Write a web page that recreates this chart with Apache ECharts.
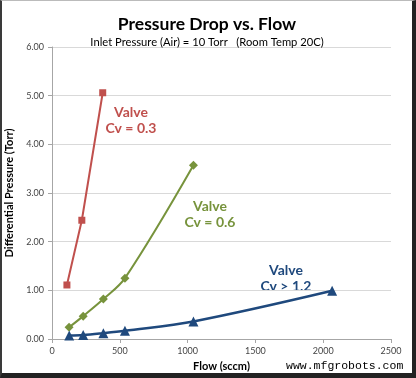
<!DOCTYPE html>
<html><head><meta charset="utf-8">
<script src="https://cdn.jsdelivr.net/npm/echarts@6/dist/echarts.min.js"></script>
<style>
html,body{margin:0;padding:0;background:#fff;}
#c{position:absolute;left:0;top:0;width:410px;height:372px;border-left:2px solid #3a3a3a;border-right:4px solid #222;border-bottom:5px solid #222;border-top:1px solid #bbb;background:#fff;}
</style></head><body>
<div id="c"></div>
<script>
const xTicks = [0, 500, 1000, 1500, 2000, 2500];
const yTicks = [0, 1, 2, 3, 4, 5, 6];
const flowCv03 = [110, 220, 374];
const dpCv03 = [1.11, 2.44, 5.06];
const flowCv06 = [126, 230, 379, 538, 1043];
const dpCv06 = [0.24, 0.47, 0.82, 1.25, 3.57];
const flowCv12 = [127, 230, 379, 538, 1043, 2066];
const dpCv12 = [0.07, 0.08, 0.12, 0.17, 0.36, 0.99];

const pairs = (xs, ys) => xs.map((x, i) => [x, ys[i]]);
const F = 'Lato, "Open Sans", sans-serif';
const chart = echarts.init(document.getElementById('c'));
function label(x, y, text, color) {
  return {type: 'text', x: x, y: y, style: {text: text, fill: color,
    font: 'bold 14px ' + F, align: 'center', verticalAlign: 'top', lineHeight: 16}};
}
chart.setOption({
  animation: false,
  backgroundColor: '#fff',
  title: [
    {text: 'Pressure Drop vs. Flow', left: 'center', top: 9,
     textStyle: {fontFamily: F, fontSize: 17.5, fontWeight: 'bold', color: '#000'}},
    {text: 'Inlet Pressure (Air) = 10 Torr   (Room Temp 20C)', left: 'center', top: 31,
     textStyle: {fontFamily: F, fontSize: 11.2, fontWeight: 'normal', color: '#000'}}
  ],
  grid: {left: 50, right: 21, top: 46, bottom: 34, containLabel: false, outerBoundsMode: 'none'},
  xAxis: {
    type: 'value', min: xTicks[0], max: xTicks[xTicks.length - 1], interval: 500,
    name: 'Flow (sccm)', nameLocation: 'middle', nameGap: 22,
    nameTextStyle: {fontFamily: F, fontSize: 11, fontWeight: 'bold', color: '#000'},
    axisLine: {lineStyle: {color: '#a6a6a6'}},
    axisTick: {show: true, length: 4, lineStyle: {color: '#a6a6a6'}},
    axisLabel: {fontFamily: F, fontSize: 9, color: '#444', margin: 8, formatter: v => String(v)},
    splitLine: {show: false}
  },
  yAxis: {
    type: 'value', min: yTicks[0], max: yTicks[yTicks.length - 1], interval: 1,
    name: 'Differential Pressure (Torr)', nameLocation: 'middle', nameGap: 27,
    nameTextStyle: {fontFamily: F, fontSize: 11, fontWeight: 'bold', color: '#000'},
    axisLine: {show: true, lineStyle: {color: '#a6a6a6'}},
    axisTick: {show: true, length: 4, lineStyle: {color: '#a6a6a6'}},
    axisLabel: {fontFamily: F, fontSize: 9, color: '#444', margin: 8, formatter: v => v.toFixed(2)},
    splitLine: {lineStyle: {color: '#d9d9d9'}}
  },
  series: [
    {type: 'line', data: pairs(flowCv03, dpCv03), smooth: false,
     symbol: 'rect', symbolSize: 7, lineStyle: {color: '#C0504D', width: 2},
     itemStyle: {color: '#C0504D'}},
    {type: 'line', data: pairs(flowCv06, dpCv06), smooth: 0.35,
     symbol: 'diamond', symbolSize: 9, lineStyle: {color: '#77933C', width: 2},
     itemStyle: {color: '#77933C'}},
    {type: 'line', data: pairs(flowCv12, dpCv12), smooth: 0.35,
     symbol: 'triangle', symbolSize: 10, lineStyle: {color: '#1F497D', width: 2.5},
     itemStyle: {color: '#1F497D'}}
  ],
  graphic: [
    label(129, 103, 'Valve\nCv = 0.3', '#C0504D'),
    label(208, 197, 'Valve\nCv = 0.6', '#77933C'),
    label(284, 261, 'Valve\nCv > 1.2', '#1F497D'),
    {type: 'text', x: 284, y: 359, style: {text: 'www.mfgrobots.com', fill: '#000',
      font: '11.5px "Liberation Mono", monospace', verticalAlign: 'top'}}
  ]
});
</script></body></html>
